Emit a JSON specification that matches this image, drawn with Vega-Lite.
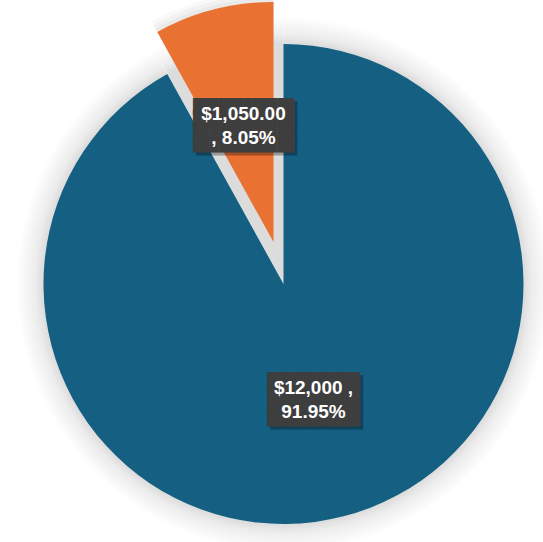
{
  "$schema": "https://vega.github.io/schema/vega-lite/v6.json",
  "description": "Exploded pie of two amounts with boxed labels.",
  "autosize": {"type": "none"},
  "width": 519,
  "height": 516,
  "padding": {"left": 24, "top": 26, "right": 0, "bottom": 0},
  "background": "white",
  "config": {"view": {"stroke": null}},
  "data": {
    "values": [
      {"category": "Main", "value": 12000, "label": "$12,000 ,\n91.95%"},
      {"category": "Other", "value": 1050, "label": "$1,050.00\n, 8.05%"}
    ]
  },
  "encoding": {
    "theta": {"field": "value", "type": "quantitative", "stack": true},
    "order": {"field": "value", "type": "quantitative", "sort": "descending"},
    "detail": {"field": "category", "type": "nominal"}
  },
  "layer": [
    {"mark": {"type": "arc", "outerRadius": 266, "color": "black", "opacity": 0.01}},
    {"mark": {"type": "arc", "outerRadius": 263, "color": "black", "opacity": 0.011}},
    {"mark": {"type": "arc", "outerRadius": 260, "color": "black", "opacity": 0.012}},
    {"mark": {"type": "arc", "outerRadius": 257, "color": "black", "opacity": 0.012}},
    {"mark": {"type": "arc", "outerRadius": 254, "color": "black", "opacity": 0.013}},
    {"mark": {"type": "arc", "outerRadius": 251, "color": "black", "opacity": 0.013}},
    {"mark": {"type": "arc", "outerRadius": 248, "color": "black", "opacity": 0.014}},
    {"mark": {"type": "arc", "outerRadius": 246, "color": "black", "opacity": 0.014}},
    {"mark": {"type": "arc", "outerRadius": 244, "color": "black", "opacity": 0.015}},
    {"mark": {"type": "arc", "outerRadius": 242, "color": "black", "opacity": 0.015}},
    {
      "mark": {"type": "arc", "outerRadius": 252, "color": "black", "xOffset": -10, "yOffset": -42},
      "encoding": {"opacity": {"condition": {"test": "datum.category === 'Other'", "value": 0.025}, "value": 0}}
    },
    {
      "mark": {"type": "arc", "outerRadius": 248, "color": "black", "xOffset": -10, "yOffset": -42},
      "encoding": {"opacity": {"condition": {"test": "datum.category === 'Other'", "value": 0.03}, "value": 0}}
    },
    {
      "mark": {"type": "arc", "outerRadius": 244, "color": "black", "xOffset": -10, "yOffset": -42},
      "encoding": {"opacity": {"condition": {"test": "datum.category === 'Other'", "value": 0.03}, "value": 0}}
    },
    {"mark": {"type": "arc", "outerRadius": 240, "color": "#dcdcdc"}},
    {
      "mark": {"type": "arc", "outerRadius": 240},
      "encoding": {
        "color": {"field": "category", "type": "nominal", "scale": {"domain": ["Main", "Other"], "range": ["#156082", "#E97132"]}, "legend": null},
        "opacity": {"condition": {"test": "datum.category === 'Other'", "value": 0}, "value": 1}
      }
    },
    {
      "mark": {"type": "arc", "outerRadius": 240, "xOffset": -10, "yOffset": -42},
      "encoding": {
        "color": {"field": "category", "type": "nominal", "scale": {"domain": ["Main", "Other"], "range": ["#156082", "#E97132"]}, "legend": null},
        "opacity": {"condition": {"test": "datum.category === 'Main'", "value": 0}, "value": 1}
      }
    },
    {
      "mark": {"type": "text", "font": "DejaVu Sans Mono", "fontSize": 14, "lineHeight": 12.8, "lineBreak": "\n", "align": "center", "baseline": "middle", "color": "black", "dx": 3, "dy": -16.2},
      "encoding": {
        "radius": {"value": 120},
        "text": {"value": "███████████\n███████████\n███████████\n███████████"},
        "opacity": {"condition": {"test": "datum.category === 'Main'", "value": 0.3}, "value": 0}
      }
    },
    {
      "mark": {"type": "text", "font": "DejaVu Sans Mono", "fontSize": 14, "lineHeight": 12.8, "lineBreak": "\n", "align": "center", "baseline": "middle", "color": "#3e3e3e", "dy": -19.2},
      "encoding": {
        "radius": {"value": 120},
        "text": {"value": "███████████\n███████████\n███████████\n███████████"},
        "opacity": {"condition": {"test": "datum.category === 'Main'", "value": 1}, "value": 0}
      }
    },
    {
      "mark": {"type": "text", "font": "DejaVu Sans Mono", "fontSize": 14, "lineHeight": 12.8, "lineBreak": "\n", "align": "center", "baseline": "middle", "color": "black", "dx": 3, "dy": -16.2, "xOffset": -10, "yOffset": -42},
      "encoding": {
        "radius": {"value": 120},
        "text": {"value": "████████████\n████████████\n████████████\n████████████"},
        "opacity": {"condition": {"test": "datum.category === 'Other'", "value": 0.3}, "value": 0}
      }
    },
    {
      "mark": {"type": "text", "font": "DejaVu Sans Mono", "fontSize": 14, "lineHeight": 12.8, "lineBreak": "\n", "align": "center", "baseline": "middle", "color": "#3e3e3e", "dy": -19.2, "xOffset": -10, "yOffset": -42},
      "encoding": {
        "radius": {"value": 120},
        "text": {"value": "████████████\n████████████\n████████████\n████████████"},
        "opacity": {"condition": {"test": "datum.category === 'Other'", "value": 1}, "value": 0}
      }
    },
    {
      "mark": {"type": "text", "font": "Liberation Sans", "fontWeight": "bold", "fontSize": 19, "lineHeight": 24, "lineBreak": "\n", "align": "center", "baseline": "middle", "color": "white", "dy": -12},
      "encoding": {
        "radius": {"value": 120},
        "text": {"field": "label", "type": "nominal"},
        "opacity": {"condition": {"test": "datum.category === 'Main'", "value": 1}, "value": 0}
      }
    },
    {
      "mark": {"type": "text", "font": "Liberation Sans", "fontWeight": "bold", "fontSize": 19, "lineHeight": 24, "lineBreak": "\n", "align": "center", "baseline": "middle", "color": "white", "dy": -12, "xOffset": -10, "yOffset": -42},
      "encoding": {
        "radius": {"value": 120},
        "text": {"field": "label", "type": "nominal"},
        "opacity": {"condition": {"test": "datum.category === 'Other'", "value": 1}, "value": 0}
      }
    }
  ]
}
